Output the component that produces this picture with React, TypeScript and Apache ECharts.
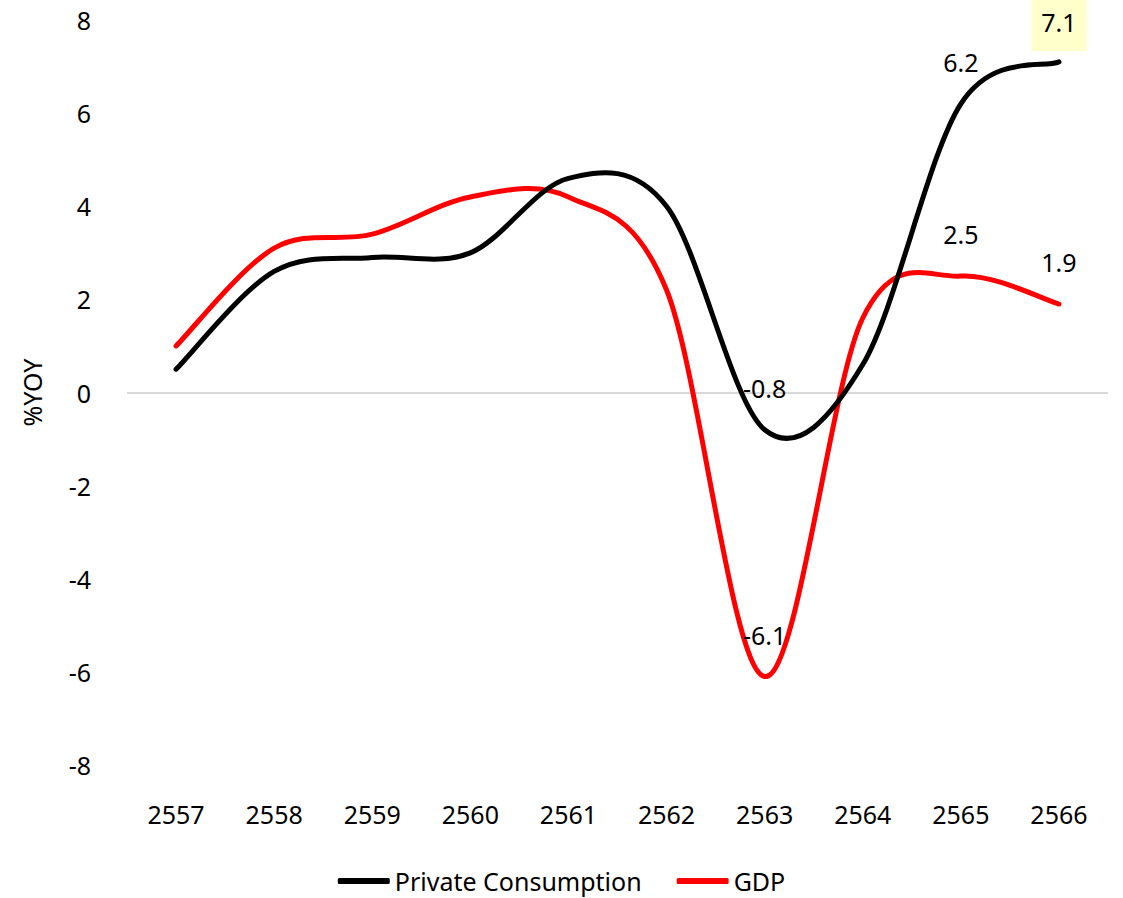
import React, { useEffect, useRef } from "react";
import * as echarts from "echarts";

const years = ["2557", "2558", "2559", "2560", "2561", "2562", "2563", "2564", "2565", "2566"];
const privateConsumption = [0.5, 2.6, 2.9, 3.0, 4.6, 4.0, -0.8, 0.6, 6.2, 7.1];
const gdp = [1.0, 3.1, 3.4, 4.2, 4.2, 2.2, -6.1, 1.6, 2.5, 1.9];
const pcLabelledIdx = [6, 8];
const pcHighlightedIdx = [9];
const gdpLabelledIdx = [6, 8, 9];
const yTicks = { min: -8, max: 8, interval: 2 };

const FONT = "Noto Sans";
const FS = 25;

// Excel-like smoothed curve through points given in pixel coords
function smoothPath(pts: number[][]): string {
  const n = pts.length;
  const P = (i: number) => pts[Math.max(0, Math.min(n - 1, i))];
  let d = `M${pts[0][0]},${pts[0][1]}`;
  for (let i = 0; i < n - 1; i++) {
    const p0 = P(i - 1), p1 = P(i), p2 = P(i + 1), p3 = P(i + 2);
    const c1x = p1[0] + (p2[0] - p0[0]) / 6;
    const c1y = p1[1] + (p2[1] - p0[1]) / 6;
    const c2x = p2[0] - (p3[0] - p1[0]) / 6;
    const c2y = p2[1] - (p3[1] - p1[1]) / 6;
    d += ` C${c1x},${c1y} ${c2x},${c2y} ${p2[0]},${p2[1]}`;
  }
  return d;
}

export default function App() {
  const ref = useRef<HTMLDivElement>(null);
  useEffect(() => {
    if (!ref.current) return;
    const chart = echarts.init(ref.current, undefined, { renderer: "svg" });
    const plainLabel = {
      show: true,
      position: "top",
      distance: 30,
      color: "#000",
      opacity: 1,
      fontFamily: FONT,
      fontSize: FS,
      lineHeight: 24,
    };
    const highlightLabel = {
      ...plainLabel,
      distance: 11,
      backgroundColor: "#FFFFCC",
      padding: [10, 10, 17, 10],
    };
    const buildLabelData = (vals: number[], labelled: number[], highlighted: number[]) =>
      vals.map((v, i) => {
        if (highlighted.includes(i)) return { value: [i, v], label: highlightLabel };
        if (labelled.includes(i)) return { value: [i, v], label: plainLabel };
        return { value: [i, v], label: { show: false } };
      });

    const curveSeries = (name: string, vals: number[], color: string, z: number) => ({
      name,
      type: "custom",
      z,
      silent: true,
      itemStyle: { color },
      encode: { x: 0, y: 1 },
      data: vals.map((v, i) => [i, v]),
      renderItem: (params: any, api: any) => {
        if (params.dataIndex !== 0) return null;
        const pts = vals.map((v, i) => api.coord([i, v]));
        return {
          type: "path",
          shape: { pathData: smoothPath(pts) },
          style: { fill: "none", stroke: color, lineWidth: 5, lineCap: "round", lineJoin: "round" },
        };
      },
    });

    const labelSeries = (name: string, vals: number[], labelled: number[], highlighted: number[]) => ({
      name,
      type: "scatter",
      symbolSize: 0,
      silent: true,
      z: 5,
      itemStyle: { color: "#ffffff", opacity: 1 },
      data: buildLabelData(vals, labelled, highlighted),
    });

    chart.setOption({
      animation: false,
      textStyle: { fontFamily: FONT },
      grid: { left: 127, right: 15, top: 20, bottom: 133, containLabel: false },
      legend: {
        top: 863,
        left: "center",
        icon: "roundRect",
        itemWidth: 52,
        itemHeight: 6,
        itemGap: 35,
        textStyle: { fontFamily: FONT, fontSize: FS, color: "#000", lineHeight: 26 },
        data: ["Private Consumption", "GDP"],
      },
      xAxis: {
        type: "category",
        data: years,
        boundaryGap: true,
        axisLine: { show: false, onZero: false },
        axisTick: { show: false },
        axisLabel: { margin: 36, color: "#000", fontFamily: FONT, fontSize: FS },
        splitLine: { show: false },
      },
      yAxis: {
        type: "value",
        min: yTicks.min,
        max: yTicks.max,
        interval: yTicks.interval,
        name: "%YOY",
        nameLocation: "middle",
        nameGap: 83,
        nameTextStyle: { color: "#000", fontFamily: FONT, fontSize: FS },
        axisLine: { show: false },
        axisTick: { show: false },
        splitLine: { show: false },
        axisLabel: { margin: 36, color: "#000", fontFamily: FONT, fontSize: FS },
      },
      series: [
        {
          ...labelSeries("pc-labels", privateConsumption, pcLabelledIdx, pcHighlightedIdx),
          markLine: {
            silent: true,
            symbol: ["none", "none"],
            label: { show: false },
            lineStyle: { color: "#D9D9D9", width: 2, type: "solid" },
            data: [{ yAxis: 0 }],
            z: 1,
          },
        },
        labelSeries("gdp-labels", gdp, gdpLabelledIdx, []),
        curveSeries("GDP", gdp, "#FF0000", 2),
        curveSeries("Private Consumption", privateConsumption, "#000000", 3),
      ],
    });
    return () => chart.dispose();
  }, []);
  return (
    <div
      ref={ref}
      style={{ position: "absolute", left: 0, top: 0, width: 1123, height: 898, background: "#fff" }}
    />
  );
}
